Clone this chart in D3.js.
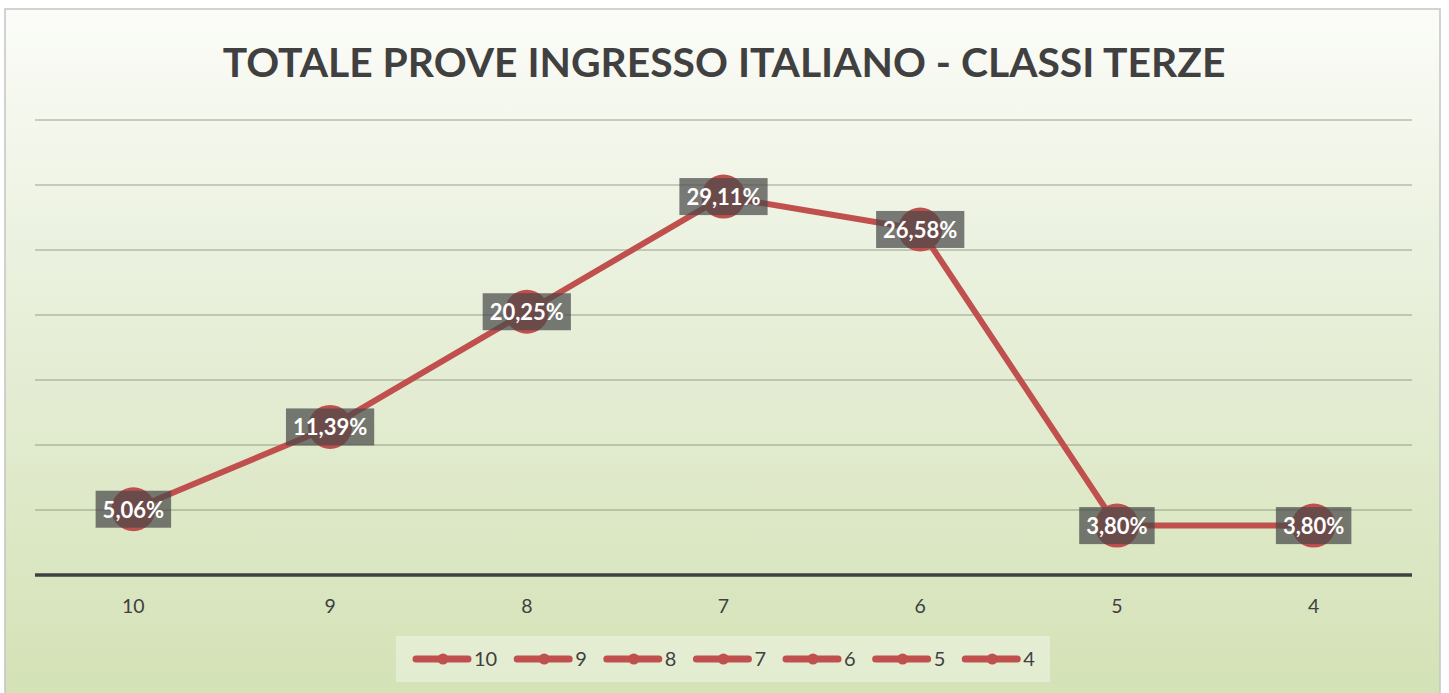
<!DOCTYPE html>
<html lang="it">
<head>
<meta charset="UTF-8" />
<title>Totale prove ingresso italiano - classi terze</title>
<script src="https://d3js.org/d3.v7.min.js"></script>
<style>
  html, body { margin: 0; padding: 0; background: #fff; }
  svg { display: block; font-family: Lato, "Open Sans", sans-serif; }
</style>
</head>
<body>
<div id="chart"></div>
<script>
// voti (categorie) e percentuali
const categories = ["10", "9", "8", "7", "6", "5", "4"];
const values = [5.06, 11.39, 20.25, 29.11, 26.58, 3.80, 3.80];
const gridTicks = [0, 5, 10, 15, 20, 25, 30, 35];

const width = 1449, height = 693;
const frame = { left: 5, top: 9, right: 1440, bottom: 693 };
const margin = { top: 120, bottom: 575, left: 35, right: 1412 };
const red = "#c0504d";

const svg = d3.select("#chart").append("svg")
  .attr("width", width)
  .attr("height", height);

const defs = svg.append("defs");
const grad = defs.append("linearGradient")
  .attr("id", "bg").attr("x1", 0).attr("y1", 0).attr("x2", 0).attr("y2", 1);
grad.append("stop").attr("offset", "0%").attr("stop-color", "#fbfcf8");
grad.append("stop").attr("offset", "40%").attr("stop-color", "#e9f0dc");
grad.append("stop").attr("offset", "100%").attr("stop-color", "#d4e2b6");

svg.append("rect")
  .attr("x", frame.left).attr("y", frame.top)
  .attr("width", frame.right - frame.left)
  .attr("height", frame.bottom - frame.top + 2)
  .attr("fill", "url(#bg)")
  .attr("stroke", "#c4c4c4")
  .attr("stroke-width", 1.5);

const x = d3.scaleBand().domain(categories).range([margin.left, margin.right]);
const y = d3.scaleLinear().domain([0, 35]).range([margin.bottom, margin.top]);
const cx = d => x(d) + x.bandwidth() / 2;

// title
const title = svg.append("text")
  .attr("x", (margin.left + margin.right) / 2 + 0.5)
  .attr("y", 77)
  .attr("text-anchor", "middle")
  .attr("font-weight", 700)
  .attr("font-size", 44)
  .attr("fill", "#404040")
  .text("TOTALE PROVE INGRESSO ITALIANO - CLASSI TERZE");
const tw = title.node().getComputedTextLength();
title.attr("font-size", 44 * 1003 / tw);

// gridlines
svg.append("g").selectAll("line")
  .data(gridTicks.slice(1))
  .join("line")
  .attr("x1", margin.left).attr("x2", margin.right)
  .attr("y1", d => y(d)).attr("y2", d => y(d))
  .attr("stroke", "#6f7a62")
  .attr("stroke-opacity", 0.45)
  .attr("stroke-width", 1.5);

// baseline
svg.append("line")
  .attr("x1", margin.left).attr("x2", margin.right)
  .attr("y1", y(0)).attr("y2", y(0))
  .attr("stroke", "#404040")
  .attr("stroke-width", 3.5);

// category axis labels
const xAxis = svg.append("g")
  .attr("transform", `translate(0,${y(0)})`)
  .call(d3.axisBottom(x).tickSize(0).tickPadding(24));
xAxis.select(".domain").remove();
xAxis.selectAll("text")
  .attr("font-size", 19.5)
  .attr("font-family", "Lato, sans-serif")
  .attr("fill", "#404040");

// line
const line = d3.line().x((d, i) => cx(categories[i])).y(d => y(d));
svg.append("path")
  .datum(values)
  .attr("d", line)
  .attr("fill", "none")
  .attr("stroke", red)
  .attr("stroke-width", 6)
  .attr("stroke-linejoin", "round");

// markers
svg.append("g").selectAll("circle")
  .data(values)
  .join("circle")
  .attr("cx", (d, i) => cx(categories[i]))
  .attr("cy", d => y(d))
  .attr("r", 22)
  .attr("fill", red);

// data labels
const fmt = v => v.toFixed(2).replace(".", ",") + "%";
const lbl = svg.append("g").selectAll("g")
  .data(values)
  .join("g")
  .attr("transform", (d, i) => `translate(${cx(categories[i])},${y(d)})`);
lbl.append("rect")
  .attr("y", -18.5).attr("height", 37)
  .attr("fill", "#4a4a4a")
  .attr("fill-opacity", 0.72);
lbl.append("text")
  .attr("text-anchor", "middle")
  .attr("dy", "0.38em")
  .attr("font-size", 22)
  .attr("font-weight", 700)
  .attr("fill", "#fff")
  .text(fmt);
lbl.each(function() {
  const g = d3.select(this);
  const w = g.select("text").node().getComputedTextLength() + 14;
  g.select("rect").attr("x", -w / 2).attr("width", w);
});

// legend
const leg = svg.append("g");
leg.append("rect")
  .attr("x", 396).attr("y", 636)
  .attr("width", 654).attr("height", 46)
  .attr("fill", "#ffffff")
  .attr("fill-opacity", 0.35);
let lx = 416;
const ly = 659;
categories.forEach(c => {
  const e = leg.append("g");
  e.append("line")
    .attr("x1", lx).attr("x2", lx + 52)
    .attr("y1", ly).attr("y2", ly)
    .attr("stroke", red).attr("stroke-width", 7)
    .attr("stroke-linecap", "round");
  e.append("circle")
    .attr("cx", lx + 27).attr("cy", ly).attr("r", 5.5)
    .attr("fill", red);
  const t = e.append("text")
    .attr("x", lx + 58).attr("y", ly)
    .attr("dy", "0.36em")
    .attr("font-size", 20)
    .attr("fill", "#404040")
    .text(c);
  lx += 58 + t.node().getComputedTextLength() + 20;
});
</script>
</body>
</html>
